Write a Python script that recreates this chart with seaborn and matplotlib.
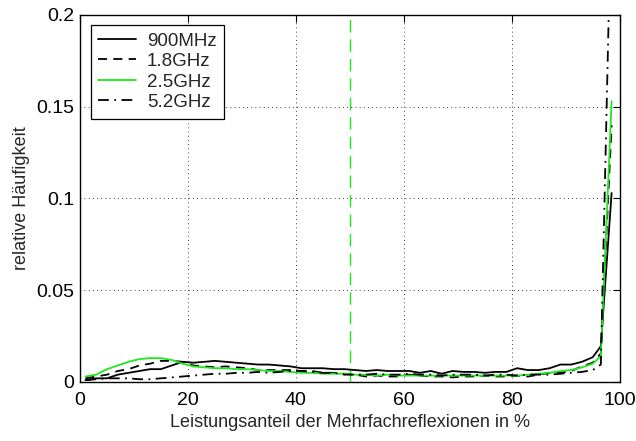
import numpy as np
import pandas as pd
import matplotlib
matplotlib.use("Agg")
import matplotlib.pyplot as plt
import seaborn as sns

# Bin centres of the multipath power share (%)
anteil = [1, 3, 5, 7, 9, 11, 13, 15, 17, 19, 21, 23, 25, 27, 29, 31, 33, 35, 37, 39,
          41, 43, 45, 47, 49, 51, 53, 55, 57, 59, 61, 63, 65, 67, 69, 71, 73, 75, 77, 79,
          81, 83, 85, 87, 89, 91, 93, 95, 96.5, 98.5]

f900 = [0.001, 0.002, 0.002, 0.004, 0.005, 0.006, 0.007, 0.007, 0.009, 0.011,
        0.0105, 0.011, 0.0115, 0.011, 0.0105, 0.010, 0.0095, 0.0095, 0.009, 0.0085,
        0.0075, 0.0075, 0.0075, 0.007, 0.007, 0.0065, 0.006, 0.0065, 0.006, 0.006,
        0.006, 0.005, 0.006, 0.0045, 0.006, 0.0055, 0.0055, 0.005, 0.0055, 0.0055,
        0.0075, 0.0065, 0.0065, 0.0075, 0.0095, 0.0095, 0.011, 0.0135, 0.0195, 0.103]

f1800 = [0.002, 0.003, 0.004, 0.006, 0.007, 0.009, 0.010, 0.0115, 0.0115, 0.011,
         0.009, 0.0085, 0.008, 0.0085, 0.008, 0.0075, 0.0065, 0.0065, 0.0065, 0.0065,
         0.006, 0.006, 0.005, 0.005, 0.0045, 0.004, 0.003, 0.0035, 0.003, 0.003,
         0.004, 0.0035, 0.003, 0.003, 0.0025, 0.003, 0.003, 0.0035, 0.003, 0.003,
         0.0035, 0.003, 0.004, 0.005, 0.005, 0.006, 0.0085, 0.0105, 0.0155, 0.14]

f2500 = [0.003, 0.004, 0.007, 0.009, 0.011, 0.0125, 0.013, 0.013, 0.012, 0.010,
         0.0085, 0.008, 0.0075, 0.0075, 0.007, 0.007, 0.0065, 0.006, 0.006, 0.0055,
         0.005, 0.005, 0.0045, 0.0045, 0.0045, 0.004, 0.004, 0.0035, 0.004, 0.0035,
         0.0035, 0.0035, 0.0035, 0.0035, 0.0035, 0.0035, 0.0035, 0.0035, 0.0035, 0.0035,
         0.0035, 0.004, 0.0045, 0.005, 0.006, 0.0065, 0.008, 0.010, 0.014, 0.153]

f5200 = [0.001, 0.0015, 0.002, 0.002, 0.002, 0.0015, 0.0015, 0.002, 0.0025, 0.003,
         0.0035, 0.004, 0.0045, 0.0045, 0.005, 0.005, 0.0055, 0.005, 0.0055, 0.006,
         0.006, 0.0055, 0.005, 0.005, 0.004, 0.004, 0.004, 0.0045, 0.004, 0.004,
         0.0045, 0.004, 0.004, 0.0035, 0.004, 0.004, 0.004, 0.0035, 0.004, 0.004,
         0.0035, 0.004, 0.004, 0.004, 0.0045, 0.005, 0.0055, 0.0065, 0.0095, 0.27]

labels = ["900MHz", "1.8GHz", "2.5GHz", "5.2GHz"]
x_ticks = [0, 20, 40, 60, 80, 100]
y_ticks = [0, 0.05, 0.1, 0.15, 0.2]
y_ticklabels = ["0", "0.05", "0.1", "0.15", "0.2"]
marker_x = 50

sns.set_style("white")
plt.rcParams["font.family"] = ["Liberation Sans", "DejaVu Sans"]

fig = plt.figure(figsize=(6.36, 4.41), dpi=100)
ax = fig.add_axes([0.1258, 0.1338, 0.8486, 0.8322])

green = "#1ee81e"
styles = [("black", "-"), ("black", (0, (5, 3.5))), (green, "-"), ("black", (0, (6, 3, 1, 3)))]
for vals, lab, (col, ls) in zip([f900, f1800, f2500, f5200], labels, styles):
    df = pd.DataFrame({"x": anteil, "y": vals})
    sns.lineplot(data=df, x="x", y="y", ax=ax, color=col, linestyle=ls,
                 linewidth=1.3, label=lab)

ax.axvline(marker_x, color=green, linestyle=(0, (9, 5)), linewidth=1.0, zorder=0.5)

ax.set_xlim(0, 100)
ax.set_ylim(0, 0.2)
ax.set_xticks(x_ticks)
ax.set_xticklabels([str(t) for t in x_ticks])
ax.set_yticks(y_ticks)
ax.set_yticklabels(y_ticklabels)
ax.grid(True, color="black", linestyle=(0, (1, 4)), linewidth=0.6)
ax.tick_params(direction="in", top=True, right=True, length=5, width=0.8,
               labelsize=14, colors="black", pad=4)
ax.tick_params(axis="x", pad=7)
for sp in ax.spines.values():
    sp.set_color("black")
    sp.set_linewidth(1.0)

ax.set_xlabel("Leistungsanteil der Mehrfachreflexionen in %", fontsize=13, labelpad=4)
ax.set_ylabel("relative Häufigkeit", fontsize=13, labelpad=5)

leg = ax.legend(loc="upper left", fontsize=13.5, frameon=True, fancybox=False,
                edgecolor="black", framealpha=1, handlelength=2.0,
                borderpad=0.4, labelspacing=0.18, handletextpad=0.6,
                borderaxespad=0, bbox_to_anchor=(0.02, 0.973))
leg.get_frame().set_linewidth(0.9)

fig.savefig("out.png", dpi=100)
